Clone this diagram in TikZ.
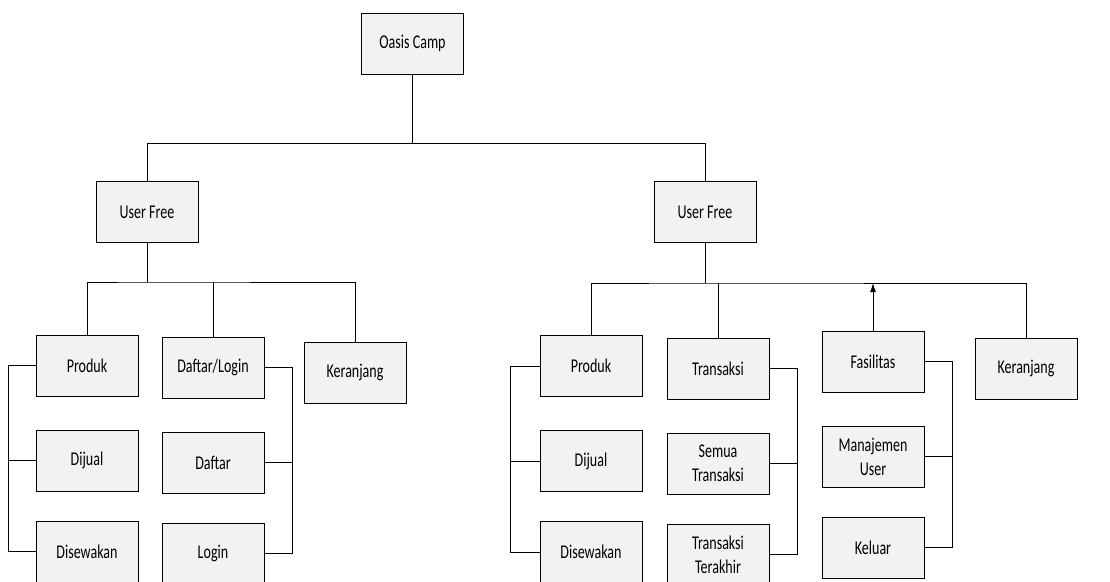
\documentclass[tikz,border=0pt]{standalone}
\usepackage{fontspec}
\setmainfont{Carlito}[FakeStretch=0.72]
\usepackage{tikz}
\usetikzlibrary{arrows}
\usetikzlibrary{arrows.meta}
\usetikzlibrary{positioning}
\definecolor{boxgray}{HTML}{F2F2F2}

\begin{document}
\begin{tikzpicture}[x=1pt, y=1pt, line width=1pt, node distance=95pt,
    menu/.style={draw, fill=boxgray, minimum width=102pt, minimum height=61pt,
      inner sep=0pt, align=center, font=\fontsize{19.5}{24}\selectfont}]
      \useasboundingbox (0,0) rectangle (1110,-581);
      \node[menu] (oasis) at (412.5,-43.5) {Oasis Camp};
      \node[menu] (userA) at (147,-212) {User Free};
      \node[menu] (userB) at (705,-212) {User Free};
      % kiri
      \node[menu] (produkA) at (87,-365.5) {Produk};
      \node[menu, below of=produkA] (dijualA) {Dijual};
      \node[menu, below of=dijualA, yshift=4pt] (sewaA) {Disewakan};
      \node[menu] (akun) at (213,-367.5) {Daftar/Login};
      \node[menu, below of=akun] (daftar) {Daftar};
      \node[menu, below of=daftar, yshift=4pt] (login) {Login};
      \node[menu] (keranjangA) at (355,-372.5) {Keranjang};
      % kanan
      \node[menu] (produkB) at (591,-366) {Produk};
      \node[menu, below of=produkB] (dijualB) {Dijual};
      \node[menu, below of=dijualB, yshift=4pt] (sewaB) {Disewakan};
      \node[menu] (transaksi) at (718,-368.5) {Transaksi};
      \node[menu, below of=transaksi] (semua) {Semua\\Transaksi};
      \node[menu, below of=semua, yshift=4pt] (terakhir) {Transaksi\\Terakhir};
      \node[menu] (fasilitas) at (873,-361.5) {Fasilitas};
      \node[menu, below of=fasilitas] (manajemen) {Manajemen\\User};
      \node[menu, below of=manajemen, yshift=4pt] (keluar) {Keluar};
      \node[menu] (keranjangB) at (1026,-368.5) {Keranjang};
      % garis
      \draw (oasis.south) -- ++(0,-69) coordinate (busTop);
      \draw (userA.north) |- (busTop) -| (userB.north);
      \draw (userA.south) -- ++(0,-39) coordinate (busA);
      \draw (produkA.north) |- (busA) -| (keranjangA.north);
      \draw (akun.north) -- (akun.north |- busA);
      \draw (userB.south) -- ++(0,-40) coordinate (busB);
      \draw (produkB.north) |- (busB) -| (keranjangB.north);
      \draw (transaksi.north) -- (transaksi.north |- busB);
      \draw[-{Latex[length=9pt,width=6pt]}] (fasilitas.north) -- (fasilitas.north |- busB);
      \draw (produkA.west) -- ++(-27,0) |- (sewaA.west);
      \draw (dijualA.west) -- ++(-27,0);
      \draw (akun.east) -- ++(28,0) |- (login.east);
      \draw (daftar.east) -- ++(28,0);
      \draw (produkB.west) -- ++(-29,0) |- (sewaB.west);
      \draw (dijualB.west) -- ++(-29,0);
      \draw (transaksi.east) -- ++(28,0) |- (terakhir.east);
      \draw (semua.east) -- ++(28,0);
      \draw (fasilitas.east) -- ++(28,0) |- (keluar.east);
      \draw (manajemen.east) -- ++(28,0);
    \end{tikzpicture}
\end{document}
